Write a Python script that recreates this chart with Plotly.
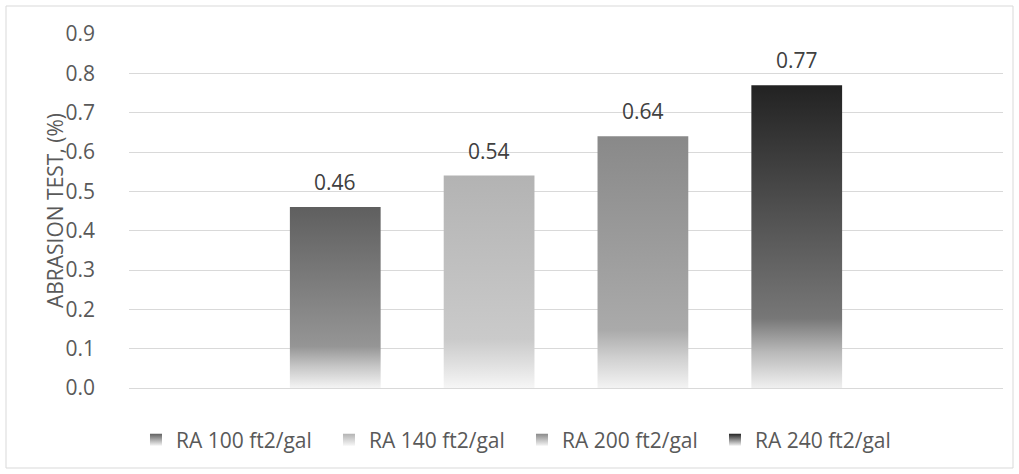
import plotly.graph_objects as go

# ---- data ----
series = ["RA 100 ft2/gal", "RA 140 ft2/gal", "RA 200 ft2/gal", "RA 240 ft2/gal"]
values = [0.46, 0.54, 0.64, 0.77]
labels = ["0.46", "0.54", "0.64", "0.77"]
top_colors = ["#5f5f5f", "#b3b3b3", "#898989", "#222222"]
mid_colors = ["#959595", "#cacaca", "#aaaaaa", "#777777"]
soft_colors = ["#c6c6c6", "#dedede", "#d0d0d0", "#b8b8b8"]
bottom_colors = ["#f4f4f4", "#f6f6f6", "#f3f3f3", "#f0f0f0"]
y_ticks = [0.0, 0.1, 0.2, 0.3, 0.4, 0.5, 0.6, 0.7, 0.8, 0.9]
y_title = "ABRASION TEST, (%)"

# grouped-bar geometry (one category at x=0), Excel-like gaps
BARGAP = 0.296
GROUPGAP = 0.41
n = len(series)
slot = (1 - BARGAP) / n
bw = slot * (1 - GROUPGAP)

W, H = 1019, 474
ML, MR, MT, MB = 129, 16, 34, 86
PW, PH = W - ML - MR, H - MT - MB
FONT = "Open Sans, Segoe UI, sans-serif"

fig = go.Figure()
annotations = []
for i, (name, v) in enumerate(zip(series, values)):
    xc = -(1 - BARGAP) / 2 + slot * (i + 0.5)
    x0, x1 = xc - bw / 2, xc + bw / 2
    fig.add_trace(go.Scatter(
        x=[x0, x1, x1, x0, x0], y=[0, 0, v, v, 0],
        mode="lines", line=dict(width=0), fill="toself",
        fillgradient=dict(type="vertical", colorscale=[
            [0.0, bottom_colors[i]], [0.12, soft_colors[i]],
            [0.23, mid_colors[i]], [1.0, top_colors[i]]]),
        showlegend=False, hoverinfo="skip",
    ))
    fig.add_trace(go.Scatter(
        x=[x0, x1], y=[v, v], mode="markers", marker=dict(size=1, opacity=0),
        showlegend=False, hovertemplate=f"{name}: %{{y}}<extra></extra>",
    ))
    annotations.append(dict(
        x=xc, y=v, xref="x", yref="y", text=labels[i], showarrow=False,
        yanchor="middle", yshift=25,
        font=dict(family=FONT, size=21, color="#404040"),
    ))
    fig.add_trace(go.Scatter(
        x=[None], y=[None], mode="markers", name=name,
        marker=dict(symbol="square", size=12, color=top_colors[i],
                    gradient=dict(type="vertical", color=bottom_colors[i])),
    ))

# y-axis title placed as a rotated annotation
annotations.append(dict(
    x=-(ML - 55) / PW, y=0.5, xref="paper", yref="paper", text=y_title,
    textangle=-90, showarrow=False, xanchor="center", yanchor="middle",
    font=dict(family=FONT, size=21, color="#595959"),
))

fig.update_layout(
    width=W, height=H,
    margin=dict(l=ML, r=MR, t=MT, b=MB),
    paper_bgcolor="white", plot_bgcolor="white",
    font=dict(family=FONT, size=21, color="#595959"),
    xaxis=dict(range=[-0.5, 0.5], showticklabels=False, showgrid=False,
               zeroline=False, showline=False, fixedrange=True),
    yaxis=dict(range=[0, 0.9], tickvals=y_ticks, tickformat=".1f",
               showgrid=True, gridcolor="#d9d9d9", gridwidth=1,
               zeroline=True, zerolinecolor="#d9d9d9", zerolinewidth=1,
               showline=False, ticks="", ticklabelstandoff=33),
    legend=dict(orientation="h", x=0.008, xanchor="left", y=-0.147,
                yanchor="middle", entrywidth=148, entrywidthmode="pixels",
                font=dict(size=21, color="#595959"), itemclick=False),
    showlegend=True,
    annotations=annotations,
    shapes=[dict(type="rect", xref="paper", yref="paper",
                 xsizemode="pixel", ysizemode="pixel", xanchor=0, yanchor=0,
                 x0=-(ML - 6), x1=W - 6 - ML, y0=-(MB - 6), y1=H - 6 - MB,
                 line=dict(color="#d9d9d9", width=1), layer="below")],
)

fig.write_html("out.html", config={"displayModeBar": False},
               post_script="document.body.style.margin='0';")
